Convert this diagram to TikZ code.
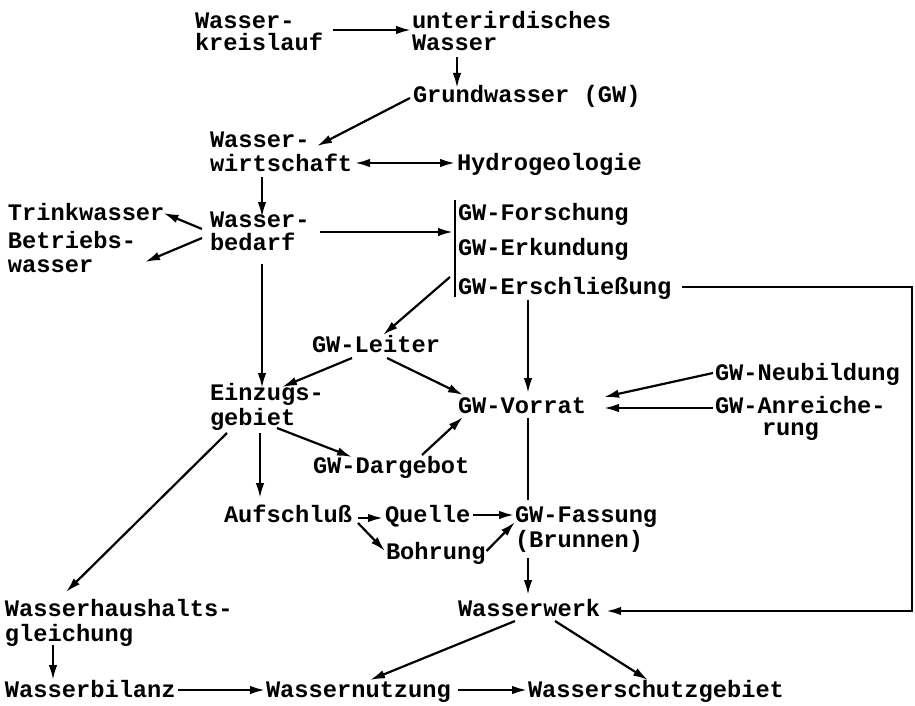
\documentclass[tikz,border=0pt]{standalone}
\usepackage{fontspec}
\setmainfont{Liberation Mono}
\usetikzlibrary{arrows.meta,calc}
\newcommand{\lbf}[1]{\fontsize{23.7pt}{#1pt}\selectfont\bfseries}
\tikzset{
  lbl/.style={inner sep=0pt, outer sep=0pt, anchor=base west, align=left, font=\lbf{22}},
  conn/.style={line width=2.2pt, -{Latex[length=15pt,width=8.5pt]}},
  plain/.style={line width=2.2pt},
  both/.style={line width=2.2pt, {Latex[length=15pt,width=8.5pt]}-{Latex[length=15pt,width=8.5pt]}}
}
\begin{document}
\begin{tikzpicture}[x=1pt,y=-1pt]
\useasboundingbox[fill=white] (0,0) rectangle (915,706);
% nodes (base = baseline of the last line)
\node[lbl] (wk) at (195,51) {Wasser-\\kreislauf};
\node[lbl] (uw) at (412,51) {unterirdisches\\Wasser};
\node[lbl] (gw) at (413,103) {Grundwasser (GW)};
\node[lbl,font=\lbf{23.5}] (ww) at (210,171) {Wasser-\\wirtschaft};
\node[lbl] (hg) at (457,170) {Hydrogeologie};
\node[lbl] (tw) at (8,220) {Trinkwasser};
\node[lbl,font=\lbf{24}] (bw) at (8,272) {Betriebs-\\wasser};
\node[lbl,font=\lbf{23}] (wb) at (210,250) {Wasser-\\bedarf};
\node[lbl] (fo) at (458,220) {GW-Forschung};
\node[lbl] (ek) at (458,255) {GW-Erkundung};
\node[lbl] (es) at (458,294) {GW-Erschließung};
\node[lbl] (le) at (312,352) {GW-Leiter};
\node[lbl,font=\lbf{25}] (ez) at (210,425) {Einzugs-\\gebiet};
\node[lbl] (vo) at (458,413) {GW-Vorrat};
\node[lbl] (nb) at (715,380) {GW-Neubildung};
\node[lbl,font=\lbf{22}] (ar) at (715,435) {GW-Anreiche-\\\hspace*{47pt}rung};
\node[lbl] (da) at (313,473) {GW-Dargebot};
\node[lbl] (au) at (224,522) {Aufschluß};
\node[lbl] (qu) at (385,522) {Quelle};
\node[lbl,font=\lbf{25}] (fa) at (515,547) {GW-Fassung\\(Brunnen)};
\node[lbl] (bo) at (386,559) {Bohrung};
\node[lbl,font=\lbf{25}] (wh) at (5,641) {Wasserhaushalts-\\gleichung};
\node[lbl] (wwk) at (458,616) {Wasserwerk};
\node[lbl] (bi) at (5,697) {Wasserbilanz};
\node[lbl] (nu) at (266,697) {Wassernutzung};
\node[lbl] (sg) at (528,697) {Wasserschutzgebiet};
% connectors
\draw[conn] ($(wk.base east)+(10,-21)$) -- ($(uw.base west)+(-1,-21)$);
\draw[conn] ($(uw.base west)+(45,6)$) -- ($(gw.base west)+(44,-15)$);
\draw[conn] ($(gw.base west)+(-3,-5)$) -- ($(ww.base west)+(107,-25)$);
\draw[both] ($(ww.base west)+(145,-8)$) -- ($(hg.base west)+(-2,-7)$);
\draw[conn] ($(ww.base west)+(52,6)$) -- ($(wb.base west)+(52,-33)$);
\draw[conn] ($(wb.base west)+(-8,-21)$) -- ($(tw.base east)+(-1,-7)$);
\draw[conn] ($(wb.base west)+(-8,-12)$) -- ($(bw.base west)+(137,-10)$);
\draw[conn] ($(wb.base west)+(110,-18)$) -- ($(ek.base west)+(-5,-23)$);
\draw[plain] ($(fo.base west)+(-3,-20)$) -- ($(es.base west)+(-3,3)$);
\draw[conn] ($(es.base west)+(-8,-17)$) -- ($(le.base west)+(71,-17)$);
\draw[conn] ($(es.base east)+(11,-7)$) -- ++(230,0) |- ($(wwk.base east)+(6,-5)$);
\draw[conn] ($(es.base west)+(70,6)$) -- ($(vo.base west)+(70,-20)$);
\draw[conn] ($(le.base west)+(40,6)$) -- ($(ez.base west)+(72,-38)$);
\draw[conn] ($(le.base west)+(75,6)$) -- ($(vo.base west)+(5,-18)$);
\draw[conn] ($(wb.base west)+(52,14)$) -- ($(ez.base west)+(52,-37)$);
\draw[conn] ($(nb.base west)+(-2,-7)$) -- ($(vo.base east)+(18,-16)$);
\draw[conn] ($(ar.base west)+(-2,-27)$) -- ($(vo.base east)+(18,-5)$);
\draw[conn] ($(ez.base west)+(67,3)$) -- ($(da.base west)+(39,-16)$);
\draw[conn] ($(da.base west)+(109,-18)$) -- ($(vo.base west)+(5,4)$);
\draw[conn] ($(ez.base west)+(50,8)$) -- ($(au.base west)+(36,-24)$);
\draw[conn] ($(ez.base west)+(17,8)$) -- ($(wh.base west)+(61,-49)$);
\draw[conn] ($(au.base east)+(6,-4)$) -- ($(qu.base west)+(-2,-4)$);
\draw[conn] ($(qu.base east)+(3,-7)$) -- ($(fa.base west)+(-1,-32)$);
\draw[conn] ($(au.base east)+(6,1)$) -- ($(bo.base west)+(-1,-8)$);
\draw[conn] ($(bo.base east)+(1,-8)$) -- ($(fa.base west)+(0,-25)$);
\draw[plain] ($(vo.base west)+(70,5)$) -- ($(fa.base west)+(13,-47)$);
\draw[conn] ($(fa.base west)+(13,11)$) -- ($(wwk.base west)+(70,-21)$);
\draw[conn] ($(wh.base west)+(48,4)$) -- ($(bi.base west)+(48,-17)$);
\draw[conn] ($(bi.base east)+(2,-7)$) -- ($(nu.base west)+(-1,-7)$);
\draw[conn] ($(nu.base east)+(7,-7)$) -- ($(sg.base west)+(-1,-7)$);
\draw[conn] ($(wwk.base west)+(57,5)$) -- ($(nu.base west)+(104,-17)$);
\draw[conn] ($(wwk.base west)+(97,5)$) -- ($(sg.base west)+(120,-17)$);
\end{tikzpicture}
\end{document}
